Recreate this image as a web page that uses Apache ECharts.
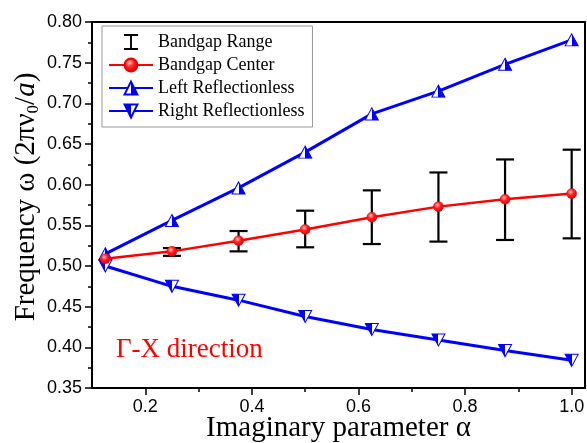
<!DOCTYPE html>
<html><head><meta charset="utf-8">
<script src="https://cdn.jsdelivr.net/npm/echarts@6/dist/echarts.min.js"></script>
<style>html,body{margin:0;padding:0;background:#fff}#c{width:587px;height:443px}</style>
</head><body><div id="c"></div>
<script>
const alpha = [0.125, 0.25, 0.375, 0.5, 0.625, 0.75, 0.875, 1.0];
const gapCenter = [0.509, 0.518, 0.531, 0.545, 0.560, 0.573, 0.582, 0.589];
const gapLow = [null, 0.5125, 0.518, 0.523, 0.527, 0.530, 0.532, 0.534];
const gapHigh = [null, 0.522, 0.543, 0.568, 0.593, 0.615, 0.631, 0.643];
const leftRefl = [0.515, 0.556, 0.596, 0.640, 0.687, 0.715, 0.748, 0.778];
const rightRefl = [0.500, 0.475, 0.458, 0.438, 0.422, 0.409, 0.396, 0.384];
const xLabelTicks = [0.2, 0.4, 0.6, 0.8, 1.0];
const xMinorTicks = [0.3, 0.5, 0.7, 0.9];
const seriesNames = ['Bandgap Range', 'Bandgap Center', 'Left Reflectionless', 'Right Reflectionless'];

const BLUE = '#0000ff', RED = '#ff0000';
const serif = '"Liberation Serif", "Times New Roman", serif';
const sans = '"Liberation Sans", Arial, sans-serif';

function half(leftColor, rightColor) {
  return {type: 'linear', x: 0, y: 0, x2: 1, y2: 0, colorStops: [
    {offset: 0, color: leftColor}, {offset: 0.5, color: leftColor},
    {offset: 0.5, color: rightColor}, {offset: 1, color: rightColor}]};
}

const chart = echarts.init(document.getElementById('c'), null, {renderer: 'canvas'});
const errData = alpha.map((a, i) => [a, gapLow[i], gapHigh[i]]).filter(d => d[1] != null);

chart.setOption({
  animation: false,
  backgroundColor: '#fff',
  grid: {left: 92, right: 2, top: 22, bottom: 55, containLabel: false, outerBoundsMode: 'none',
    show: true, borderColor: '#000', borderWidth: 2, backgroundColor: 'transparent'},
  legend: {
    orient: 'vertical', left: 102, top: 26,
    padding: [7, 8, 7, 6], itemGap: 5, itemWidth: 44, itemHeight: 16,
    backgroundColor: '#fff', borderColor: '#999', borderWidth: 1,
    textStyle: {fontFamily: serif, fontSize: 18, color: '#000', lineHeight: 18},
    data: [
      {name: seriesNames[0], icon: 'path://M0,0 L15,0 L15,2 L8.5,2 L8.5,15 L15,15 L15,17 L0,17 L0,15 L6.5,15 L6.5,2 L0,2 Z'},
      {name: seriesNames[1]}, {name: seriesNames[2]}, {name: seriesNames[3]}
    ]
  },
  xAxis: [{
    type: 'value', min: 0.1, max: 1.025,
    axisLine: {show: true, lineStyle: {color: '#000', width: 2}},
    axisTick: {show: true, inside: false, length: 7, customValues: xLabelTicks, lineStyle: {color: '#000', width: 1.5}},
    axisLabel: {customValues: xLabelTicks, formatter: v => v.toFixed(1), fontFamily: sans, fontSize: 18, color: '#000', margin: 10},
    splitLine: {show: false},
    name: 'Imaginary parameter α', nameLocation: 'middle', nameGap: 26, nameMoveOverlap: false,
    nameTextStyle: {fontFamily: serif, fontSize: 29, color: '#000'}
  }, {
    type: 'value', min: 0.1, max: 1.025, position: 'bottom',
    axisLine: {show: false},
    axisTick: {show: true, inside: false, length: 4, customValues: xMinorTicks, lineStyle: {color: '#000', width: 1.5}},
    axisLabel: {show: false}, splitLine: {show: false}
  }],
  yAxis: {
    type: 'value', min: 0.35, max: 0.80, interval: 0.05,
    axisLine: {show: true, lineStyle: {color: '#000', width: 2}},
    axisTick: {show: true, inside: false, length: 7, lineStyle: {color: '#000', width: 1.5}},
    minorTick: {show: true, splitNumber: 2, length: 4, lineStyle: {color: '#000', width: 1.5}},
    splitLine: {show: false}, minorSplitLine: {show: false},
    axisLabel: {formatter: v => v.toFixed(2), fontFamily: sans, fontSize: 18, color: '#000', margin: 10},
    name: '{t|Frequency ω (2πν}{s|0}{t|/}{i|a}{t|)}', nameLocation: 'middle', nameGap: 50, nameRotate: 90, nameMoveOverlap: false,
    nameTextStyle: {fontFamily: serif, fontSize: 29, color: '#000', padding: [0, 0, 0, 16],
      rich: {
        t: {fontFamily: serif, fontSize: 29, color: '#000', lineHeight: 32},
        s: {fontFamily: serif, fontSize: 17, color: '#000', verticalAlign: 'bottom', lineHeight: 12},
        i: {fontFamily: serif, fontSize: 29, fontStyle: 'italic', color: '#000', lineHeight: 32}
      }}
  },
  graphic: [{
    type: 'text', left: 116, top: 336,
    style: {text: 'Γ-X direction', font: '27px "Liberation Serif"', fill: RED}
  }],
  series: [{
    name: seriesNames[0], type: 'custom', xAxisIndex: 0, z: 1,
    itemStyle: {color: '#000'},
    encode: {x: 0, y: [1, 2]},
    data: errData,
    renderItem: function (params, api) {
      const x = api.value(0), lo = api.value(1), hi = api.value(2);
      const pLo = api.coord([x, lo]), pHi = api.coord([x, hi]);
      const hw = 9;
      const st = {stroke: '#000', lineWidth: 2.2};
      return {type: 'group', children: [
        {type: 'line', shape: {x1: pLo[0], y1: pLo[1], x2: pHi[0], y2: pHi[1]}, style: st},
        {type: 'line', shape: {x1: pLo[0] - hw, y1: pLo[1], x2: pLo[0] + hw, y2: pLo[1]}, style: st},
        {type: 'line', shape: {x1: pHi[0] - hw, y1: pHi[1], x2: pHi[0] + hw, y2: pHi[1]}, style: st}
      ]};
    }
  }, {
    name: seriesNames[1], type: 'line', z: 3,
    data: alpha.map((a, i) => [a, gapCenter[i]]),
    symbol: 'circle', symbolSize: 10,
    lineStyle: {color: RED, width: 2.5},
    itemStyle: {color: {type: 'radial', x: 0.4, y: 0.35, r: 0.65, colorStops: [
      {offset: 0, color: '#ffc0c0'}, {offset: 0.45, color: '#ff2020'}, {offset: 1, color: '#e00000'}]},
      borderColor: '#ee0000', borderWidth: 0.5}
  }, {
    name: seriesNames[2], type: 'line', z: 2,
    data: alpha.map((a, i) => [a, leftRefl[i]]),
    symbol: 'triangle', symbolSize: [13, 12],
    lineStyle: {color: BLUE, width: 3},
    itemStyle: {color: half('#ffffff', BLUE), borderColor: BLUE, borderWidth: 1}
  }, {
    name: seriesNames[3], type: 'line', z: 2,
    data: alpha.map((a, i) => [a, rightRefl[i]]),
    symbol: 'path://M0,0 L2,0 L1,2 Z', symbolSize: [13, 12],
    lineStyle: {color: BLUE, width: 3},
    itemStyle: {color: half(BLUE, '#ffffff'), borderColor: BLUE, borderWidth: 1}
  }]
});
</script></body></html>
